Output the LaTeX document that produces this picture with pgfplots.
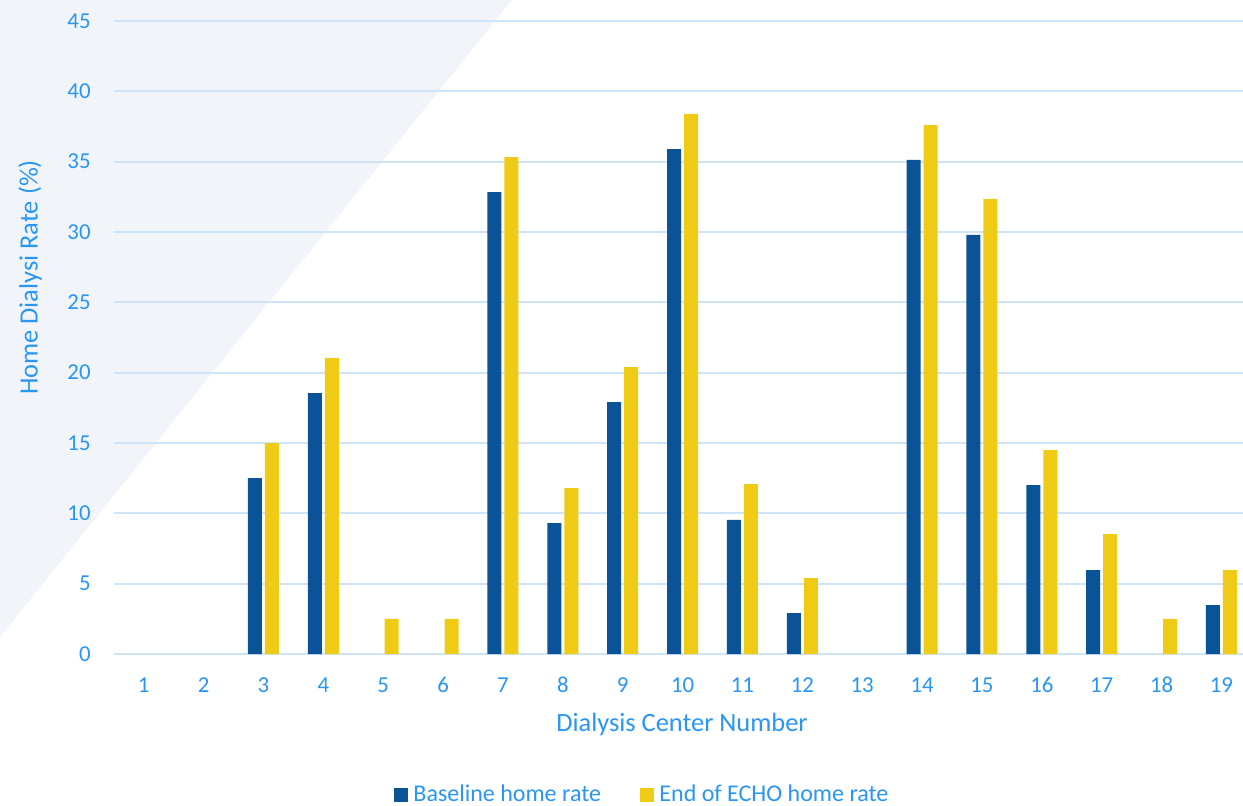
\documentclass[border=0pt]{standalone}
\usepackage{pgfplots}
\pgfplotsset{compat=1.18}
\usepackage{fontspec}
\setmainfont{Carlito}
\definecolor{txt}{RGB}{41,150,243}
\definecolor{gridc}{RGB}{208,228,248}
\definecolor{bgtri}{RGB}{241,245,249}
\definecolor{bblue}{RGB}{10,83,150}
\definecolor{byellow}{RGB}{239,203,21}
\begin{document}
\begin{tikzpicture}
\path[use as bounding box] (0,0) rectangle (621.5pt,402.5pt);
\fill[bgtri] (0,402.5pt) -- (256pt,402.5pt) -- (0,84pt) -- cycle;
\begin{axis}[
  at={(56.9pt,75.5pt)}, anchor=south west,
  scale only axis, width=564.6pt, height=316.5pt,
  xmin=0.5, xmax=19.36, ymin=0, ymax=45,
  xtick={1,...,19}, ytick={0,5,...,45},
  axis line style={draw=none},
  tick style={draw=none}, major tick length=0pt,
  ymajorgrids, grid style={draw=gridc, line width=1pt},
  clip=false,
  ticklabel style={font=\fontsize{11.4}{13}\selectfont, text=txt},
  /pgf/number format/assume math mode=true,
  xticklabel style={anchor=base, inner sep=0pt, yshift=-19.15pt},
  yticklabel style={anchor=east, inner sep=0pt, xshift=-11.4pt},
  xlabel={Dialysis Center Number},
  ylabel={Home Dialysi Rate (\%)},
  label style={font=\fontsize{13.2}{15}\selectfont, text=txt},
  xlabel style={at={(axis description cs:0.5032,0)}, anchor=base, inner sep=0pt, yshift=-38.85pt},
  ylabel style={at={(axis description cs:-0.0674,0.5948)}, anchor=base, inner sep=0pt},
  legend columns=2,
  legend style={draw=none, fill=none, inner sep=0pt, outer sep=0pt,
    at={(axis description cs:0.2481,-0.2227)}, anchor=west,
    font=\fontsize{12}{14}\selectfont, text=txt,
    nodes={inner sep=2.75pt},
    /tikz/every even column/.append style={column sep=16.75pt}},
  ybar, bar width=7pt,
]
\addplot[fill=bblue, draw=none, bar shift=-4.25pt,
  legend image code/.code={\fill[bblue] (0pt,-3.5pt) rectangle (7pt,3.5pt);}] coordinates {
 (3,12.5) (4,18.55) (7,32.84) (8,9.31) (9,17.91) (10,35.9) (11,9.53) (12,2.9)
 (14,35.12) (15,29.79) (16,12.0) (17,5.97) (19,3.48)};
\addplot[fill=byellow, draw=none, bar shift=4.25pt,
  legend image code/.code={\fill[byellow] (0pt,-3.5pt) rectangle (7pt,3.5pt);}] coordinates {
 (3,15.0) (4,21.04) (5,2.5) (6,2.5) (7,35.33) (8,11.8) (9,20.4) (10,38.39) (11,12.08) (12,5.4)
 (14,37.6) (15,32.35) (16,14.5) (17,8.53) (18,2.5) (19,5.97)};
\legend{Baseline home rate, End of ECHO home rate}
\end{axis}
\end{tikzpicture}
\end{document}
